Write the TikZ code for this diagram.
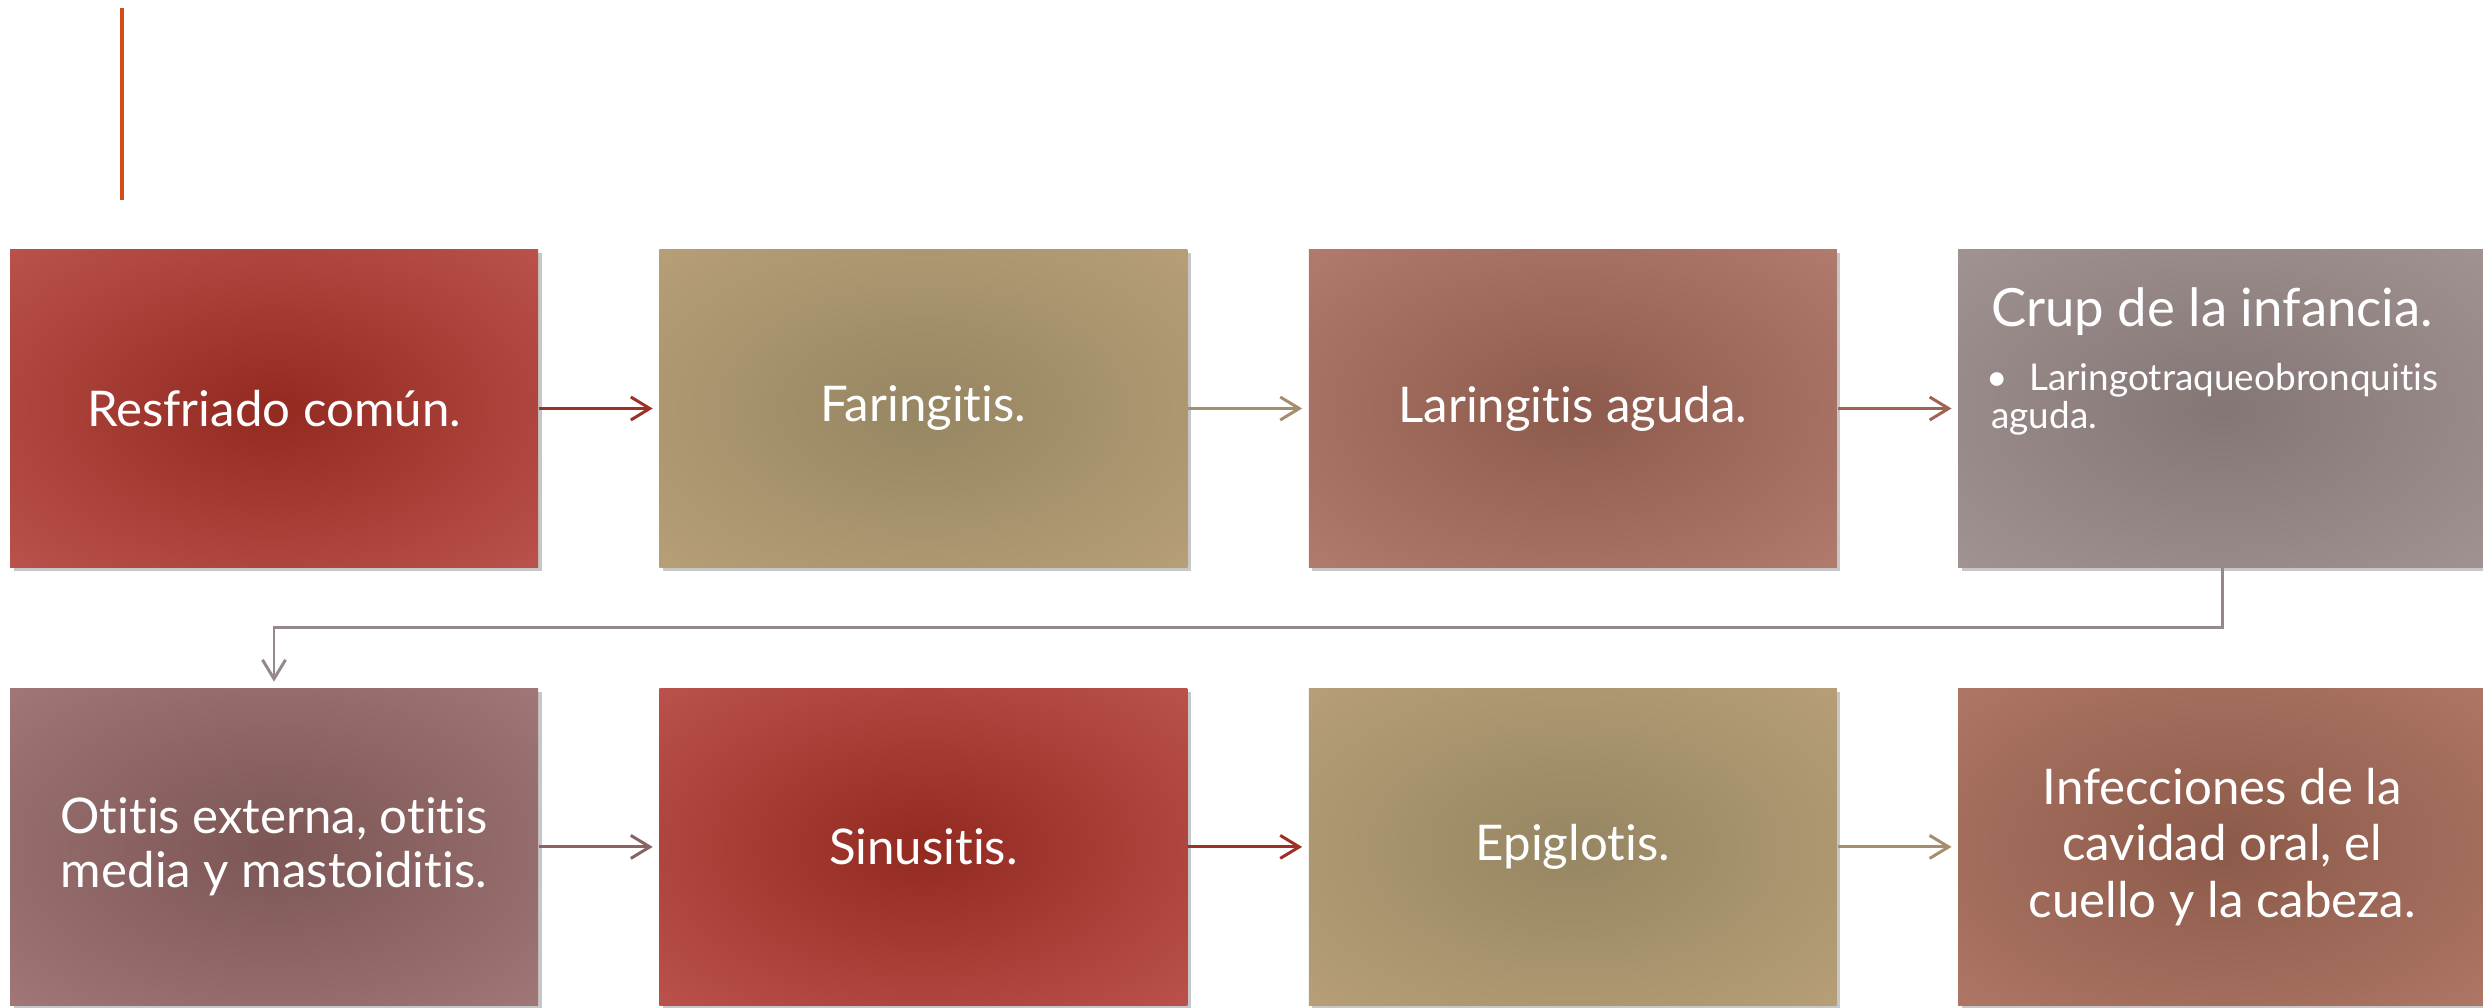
\documentclass[tikz,border=0pt]{standalone}
\usepackage{fontspec}
\setmainfont{Lato}[Ligatures=NoCommon]
\usepackage{xcolor}
\usepackage{tikz}
\usetikzlibrary{positioning,chains,shadows,arrows.meta}

\definecolor{redin}{HTML}{922A20}
\definecolor{redout}{HTML}{BC534E}
\definecolor{tanin}{HTML}{968662}
\definecolor{tanout}{HTML}{B8A078}
\definecolor{brownin}{HTML}{8C5A4C}
\definecolor{brownout}{HTML}{B27C6E}
\definecolor{greyin}{HTML}{857676}
\definecolor{greyout}{HTML}{A39494}
\definecolor{mauvein}{HTML}{7C5555}
\definecolor{mauveout}{HTML}{A27878}
\definecolor{clayin}{HTML}{8C5A4A}
\definecolor{clayout}{HTML}{AF7766}
\definecolor{redline}{HTML}{9E3028}
\definecolor{tanline}{HTML}{A38F6B}
\definecolor{brownline}{HTML}{A06252}
\definecolor{greyline}{HTML}{968888}
\definecolor{mauveline}{HTML}{8A6262}
\definecolor{accent}{HTML}{D24B1B}

\pgfdeclareradialshading{redglow}{\pgfpoint{0bp}{0bp}}{color(0bp)=(redin); color(37bp)=(redout); color(50bp)=(redout)}
\pgfdeclareradialshading{tanglow}{\pgfpoint{0bp}{0bp}}{color(0bp)=(tanin); color(37bp)=(tanout); color(50bp)=(tanout)}
\pgfdeclareradialshading{brownglow}{\pgfpoint{0bp}{0bp}}{color(0bp)=(brownin); color(37bp)=(brownout); color(50bp)=(brownout)}
\pgfdeclareradialshading{greyglow}{\pgfpoint{0bp}{0bp}}{color(0bp)=(greyin); color(37bp)=(greyout); color(50bp)=(greyout)}
\pgfdeclareradialshading{mauveglow}{\pgfpoint{0bp}{0bp}}{color(0bp)=(mauvein); color(37bp)=(mauveout); color(50bp)=(mauveout)}
\pgfdeclareradialshading{clayglow}{\pgfpoint{0bp}{0bp}}{color(0bp)=(clayin); color(37bp)=(clayout); color(50bp)=(clayout)}

\begin{document}
\begin{tikzpicture}[
      box/.style={
            rectangle, inner sep=0pt,
            minimum width=5.28cm, minimum height=3.17cm,
            text=white, align=center,
            font=\fontsize{14}{15.5}\selectfont,
            drop shadow={shadow xshift=0.035cm, shadow yshift=-0.035cm,
                         fill=black, opacity=0.22}
        },
      redbox/.style={box, shading=redglow},
      tanbox/.style={box, shading=tanglow},
      brownbox/.style={box, shading=brownglow},
      greybox/.style={box, shading=greyglow},
      mauvebox/.style={box, shading=mauveglow},
      claybox/.style={box, shading=clayglow},
      link/.style={
            -{Straight Barb[length=1.9mm, width=2.3mm]},
            line width=0.85pt, shorten >=0.06cm
        },
      node distance=1.2cm
      ]
    \useasboundingbox (0,0) rectangle (24.83,-10.08);

    \coordinate (M1) at (1.22,-0.08);
    \coordinate (M2) at (1.22,-2.00);
    \draw[accent, line width=1.1pt] (M1) -- (M2);

    \begin{scope}[start chain=top going right]
    \node[redbox,on chain=top] (A) at (2.74,-4.085) {Resfriado común.};
    \node[tanbox,on chain=top] (B) {Faringitis.};
    \node[brownbox,on chain=top] (C) {Laringitis aguda.};
    \node[greybox,on chain=top] (D) {};
    \end{scope}

    \begin{scope}[start chain=bottom going right]
    \node[mauvebox,on chain=bottom] (E) [below=1.2cm of A] {Otitis externa, otitis\\media y mastoiditis.};
    \node[redbox,on chain=bottom] (F) {Sinusitis.};
    \node[tanbox,on chain=bottom] (G) {Epiglotis.};
    \node[claybox,on chain=bottom,font=\fontsize{14}{16}\selectfont] (H) {Infecciones de la\\cavidad oral, el\\cuello y la cabeza.};
    \end{scope}

    \node[anchor=north west, text=white, inner sep=0pt,
          font=\fontsize{15}{16}\selectfont] (Dt)
          at ([shift={(0.33,-0.38)}]D.north west) {Crup de la infancia.};
    \node[anchor=north west, text=white, inner sep=0pt, text width=4.6cm, align=left,
          font=\fontsize{10.5}{10.8}\selectfont] (Ds)
          at ([shift={(0.33,-1.13)}]D.north west)
          {\leftskip=0.38cm\noindent\llap{\textbullet\hspace{0.21cm}}Laringotraqueobronquitis\\aguda.};

    \draw[link, redline] (A) -- (B);
    \draw[link, tanline] (B) -- (C);
    \draw[link, brownline] (C) -- (D);
    \draw[link, greyline] (D.south) -- ++(0,-0.6) -| (E.north);
    \draw[link, mauveline] (E) -- (F);
    \draw[link, redline] (F) -- (G);
    \draw[link, tanline] (G) -- (H);
  \end{tikzpicture}
\end{document}
